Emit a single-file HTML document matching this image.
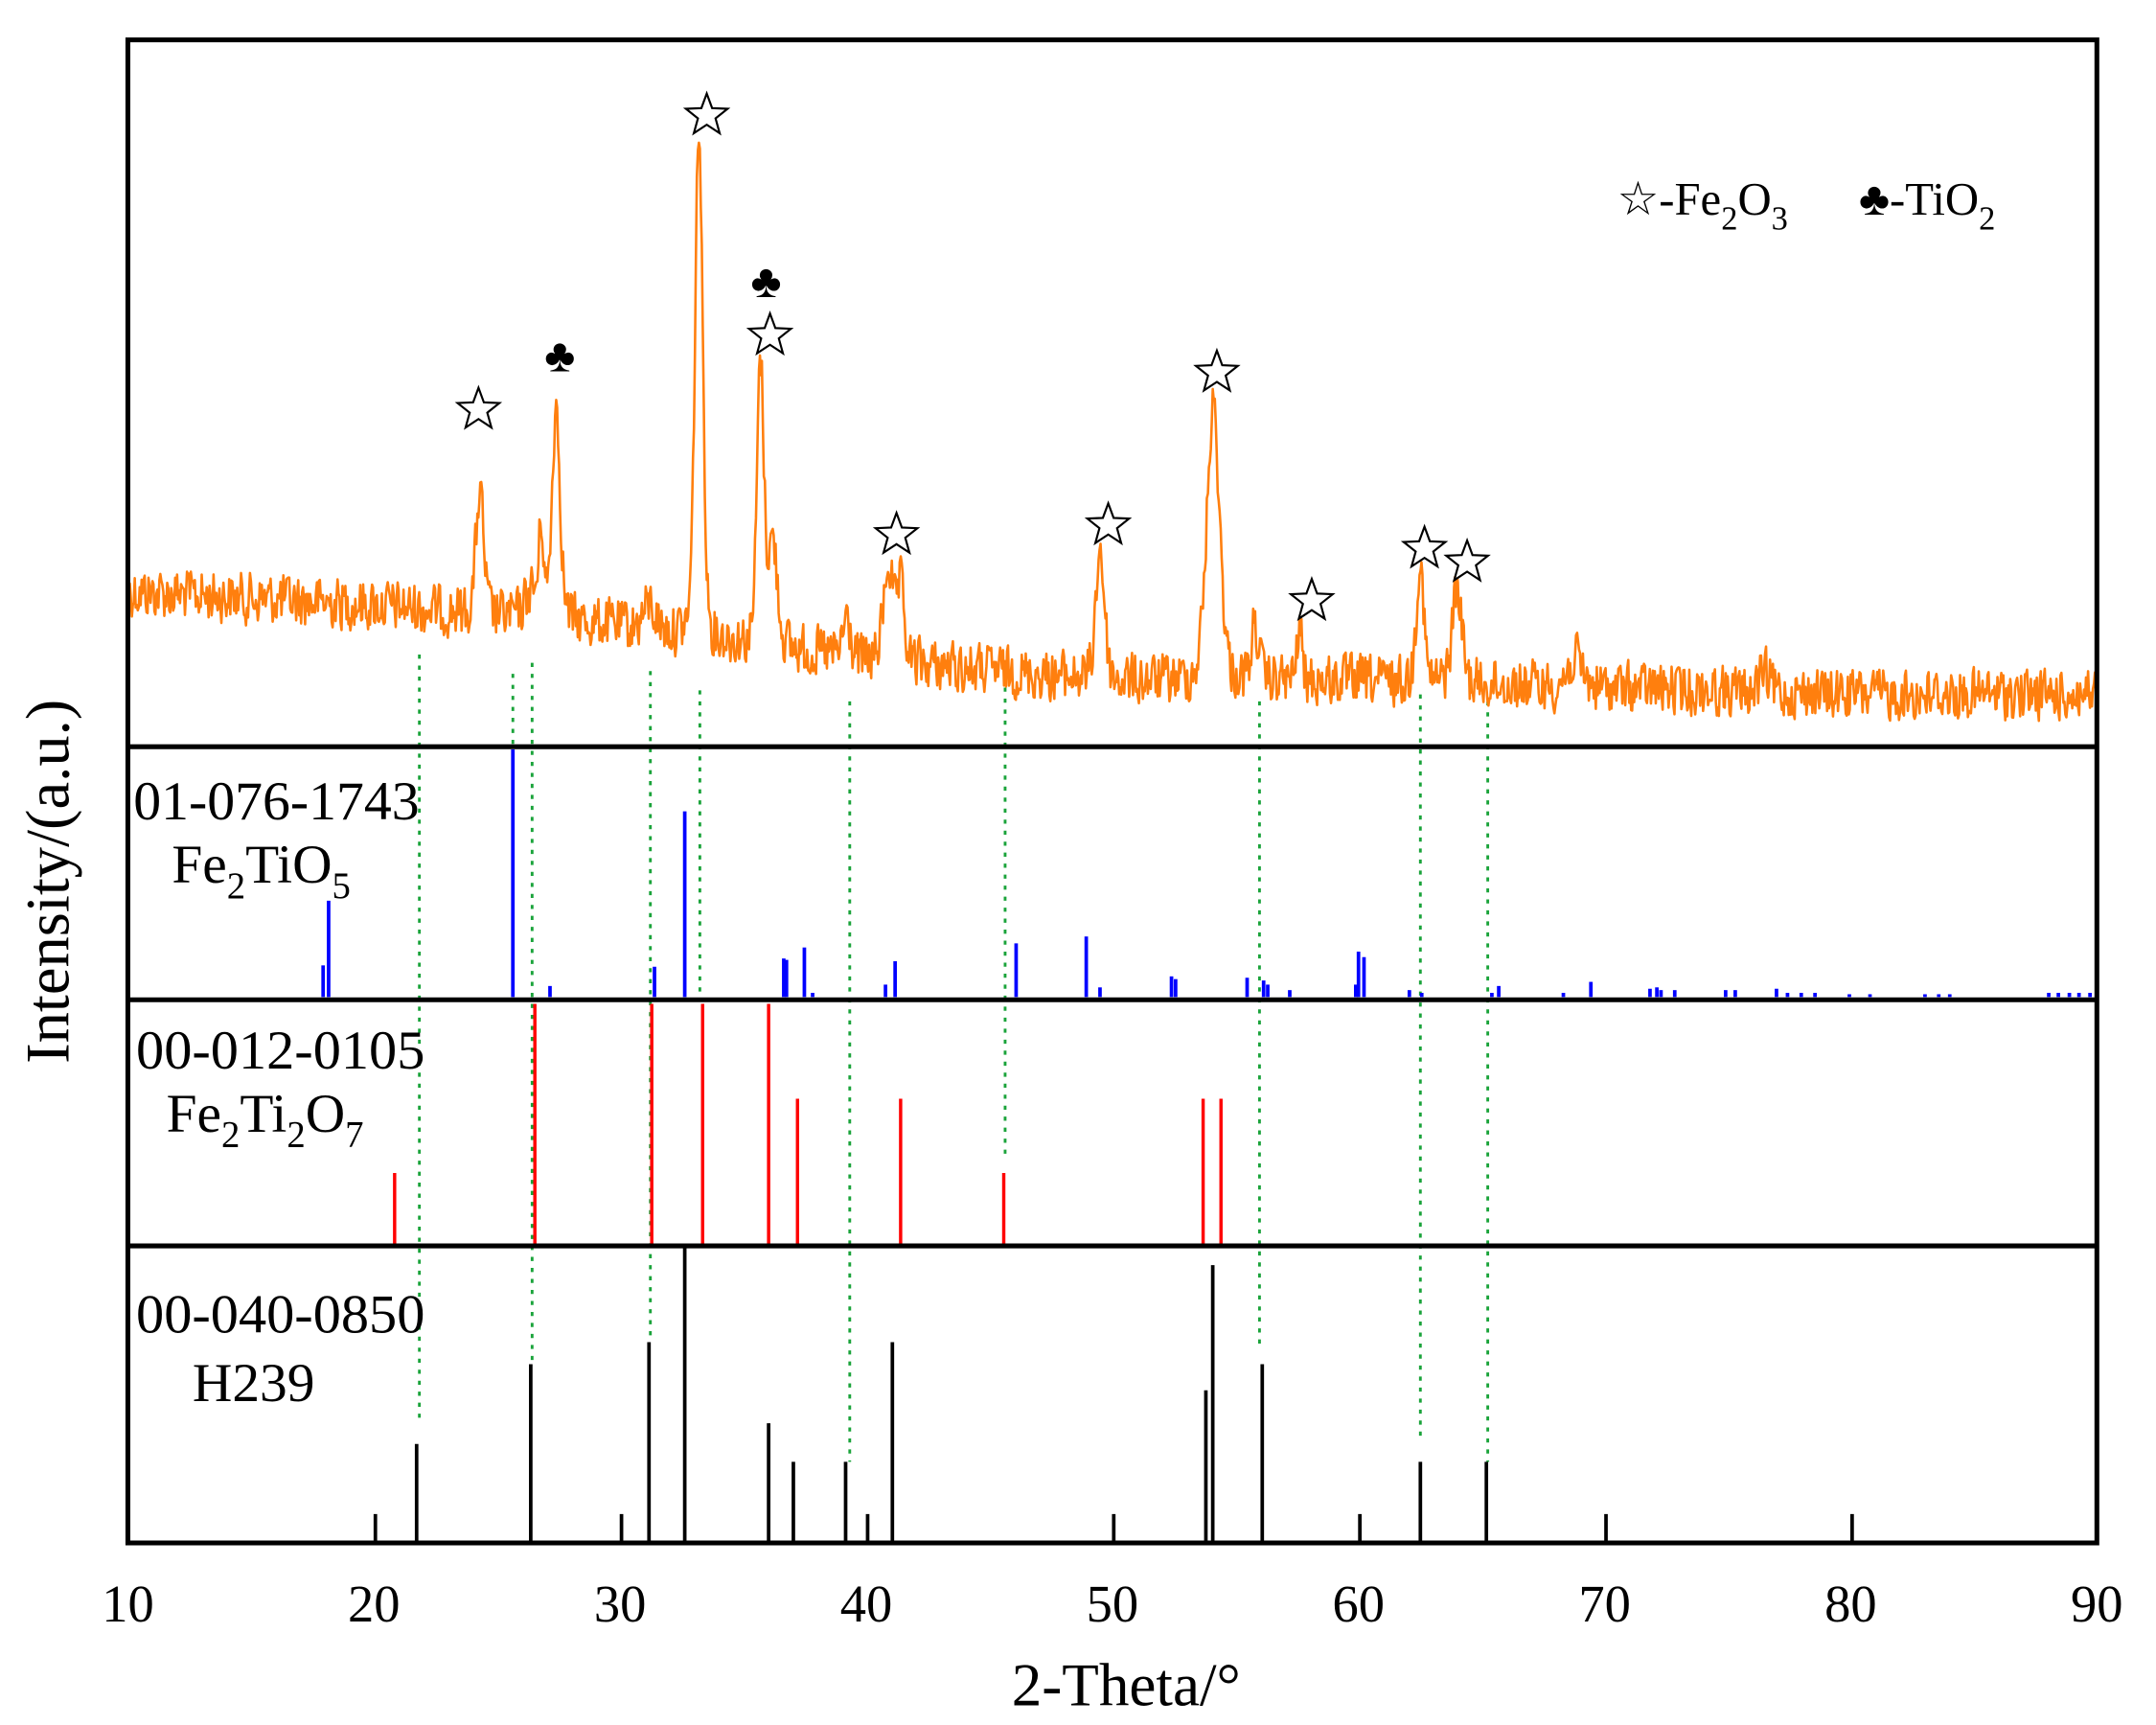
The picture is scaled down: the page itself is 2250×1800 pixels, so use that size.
<!DOCTYPE html>
<html><head><meta charset="utf-8"><style>
html,body{margin:0;padding:0;background:#fff;}
svg{display:block;}
text{font-family:"Liberation Serif","DejaVu Serif",serif;fill:#000;}
</style></head><body>
<svg id="s" xmlns="http://www.w3.org/2000/svg" width="2250" height="1800" viewBox="0 0 1568 1254.4">
<rect x="0" y="0" width="1568" height="1254.4" fill="#fff"/>
<g id="green" stroke="#1aa33a" stroke-width="2" stroke-dasharray="3,5" fill="none"></g>
<g id="sticks"></g>
<path id="curve" fill="none" stroke="#ff7f0e" stroke-width="1.8" stroke-linejoin="round"/>
<g id="stars" fill="#fff" stroke="#000" stroke-width="1.5"></g>
<g font-size="34">
<text x="396" y="270">♣</text>
<text x="546" y="216">♣</text>
</g>
<g stroke="#000" stroke-width="3.5" fill="none">
<rect x="93" y="29" width="1432" height="1093"/>
<line x1="93" y1="543" x2="1525" y2="543"/>
<line x1="93" y1="727" x2="1525" y2="727"/>
<line x1="93" y1="906" x2="1525" y2="906"/>
</g>
<g font-size="34">
<text x="1176" y="156">☆-Fe<tspan dy="11" font-size="24">2</tspan><tspan dy="-11">O</tspan><tspan dy="11" font-size="24">3</tspan></text>
<text x="1352" y="156">♣-TiO<tspan dy="11" font-size="24">2</tspan></text>
</g>
<g font-size="40">
<text x="97" y="596" textLength="208" lengthAdjust="spacingAndGlyphs">01-076-1743</text>
<text x="125" y="642">Fe<tspan dy="11" font-size="27">2</tspan><tspan dy="-11">TiO</tspan><tspan dy="11" font-size="27">5</tspan></text>
<text x="99" y="777" textLength="210" lengthAdjust="spacingAndGlyphs">00-012-0105</text>
<text x="121" y="823">Fe<tspan dy="11" font-size="27">2</tspan><tspan dy="-11">Ti</tspan><tspan dy="11" font-size="27">2</tspan><tspan dy="-11">O</tspan><tspan dy="11" font-size="27">7</tspan></text>
<text x="99" y="969" textLength="210" lengthAdjust="spacingAndGlyphs">00-040-0850</text>
<text x="140" y="1019">H239</text>
</g>
<g font-size="38" text-anchor="middle" id="ticks"></g>
<text x="819" y="1240" font-size="44" text-anchor="middle">2-Theta/°</text>
<text transform="translate(50,641) rotate(-90)" font-size="45" text-anchor="middle">Intensity/(a.u.)</text>
</svg>
<script>
var NS="http://www.w3.org/2000/svg";
function X(t){return 93+(t-10)*17.9;}
function el(p,tag,a){var e=document.createElementNS(NS,tag);for(var k in a)e.setAttribute(k,a[k]);p.appendChild(e);return e;}
var tk=document.getElementById('ticks');
for(var t=10;t<=90;t+=10){var e=el(tk,'text',{x:X(t),y:1179});e.textContent=t;}
var g=document.getElementById('green');
[[305,476,1031],[373,490,545],[387,482,992],[473,488,976],[509,502,725],[618,510,1063],[731,500,839],[916,510,980],[1033,505,1047],[1082,510,1063]].forEach(function(d){el(g,'line',{x1:d[0],y1:d[1],x2:d[0],y2:d[2]});});
var s=document.getElementById('sticks');
function sticks(arr,base,col,w){arr.forEach(function(d){el(s,'line',{x1:d[0],y1:d[1],x2:d[0],y2:base,stroke:col,'stroke-width':w});});}
sticks([[235,702],[239,655],[373,545],[400,717],[476,703],[498,590],[570,697],[572,698],[585,689],[591,722],[644,716],[651,699],[739,686],[790,681],[800,718],[852,710],[855,712],[907,711],[919,713],[922,716],[938,720],[986,716],[988,692],[992,696],[1025,720],[1034,722],[1085,722],[1090,717],[1137,722],[1157,714],[1200,719],[1205,718],[1208,720],[1218,720],[1255,720],[1262,720],[1292,719],[1300,722],[1310,722],[1320,722],[1345,723],[1360,723],[1400,723],[1410,723],[1418,723],[1490,722],[1497,722],[1505,722],[1512,722],[1520,722]],725,'#0000ff',2.6);
sticks([[287,853],[389,730],[474,730],[511,730],[559,730],[580,799],[655,799],[730,853],[875,799],[888,799]],905,'#ff0000',2.4);
sticks([[273,1101],[303,1050],[386,992],[452,1101],[472,976],[498,907],[559,1035],[577,1063],[615,1063],[631,1101],[649,976],[810,1101],[877,1011],[882,920],[918,992],[989,1101],[1033,1063],[1081,1063],[1168,1101],[1347,1101]],1121,'#000',2.6);
var bp=[[10,430],[20,440],[30,455],[40,480],[50,495],[60,495],[70,500],[80,505],[90,505]];
function base(t){for(var i=0;i<bp.length-1;i++){if(t<=bp[i+1][0]){var a=bp[i],b=bp[i+1];return a[1]+(b[1]-a[1])*(t-a[0])/(b[0]-a[0]);}}return 505;}
var pk=[[24.3,357,0.16],[26.4,430,0.25],[26.8,385,0.1],[27.4,295,0.17],[31.2,440,0.25],[33.2,92,0.16],[35.7,262,0.14],[36.2,395,0.2],[39.2,450,0.15],[40.9,410,0.2],[41.4,430,0.15],[49.5,398,0.18],[54.1,296,0.27],[55.8,455,0.15],[57.6,455,0.1],[62.5,405,0.15],[64.0,427,0.2],[68.8,480,0.3],[76.5,490,0.2]];
pk.forEach(function(p){p.push(base(p[0])-p[1]);});
var seed=12345;function rnd(){seed=(seed*1103515245+12345)%2147483648;return seed/2147483648;}
var d="M"+X(10)+",541 L"+X(10)+",430",prev=0;
for(var t=10.04;t<=90;t+=0.04){var y=base(t);pk.forEach(function(p){var z=(t-p[0])/p[2];y-=p[3]*(0.75*Math.exp(-z*z/2)+0.25/(1+z*z));});var n=(rnd()-0.5)*44;prev=0.2*prev+0.8*n;y+=prev;d+=" L"+X(t).toFixed(1)+","+y.toFixed(1);}
document.getElementById('curve').setAttribute('d',d);
var st=document.getElementById('stars');
function star(cx,cy,r){var pts=[];for(var i=0;i<10;i++){var a=-Math.PI/2+i*Math.PI/5;var rr=i%2?r*0.42:r;pts.push((cx+rr*Math.cos(a)).toFixed(1)+","+(cy+rr*Math.sin(a)).toFixed(1));}el(st,'polygon',{points:pts.join(" ")});}
[[348,296],[514,82],[560,242],[652,387],[806,380],[885,269],[954,435],[1036,397],[1067,407]].forEach(function(p){star(p[0],p[1]+2,16);});
</script>
</body></html>
